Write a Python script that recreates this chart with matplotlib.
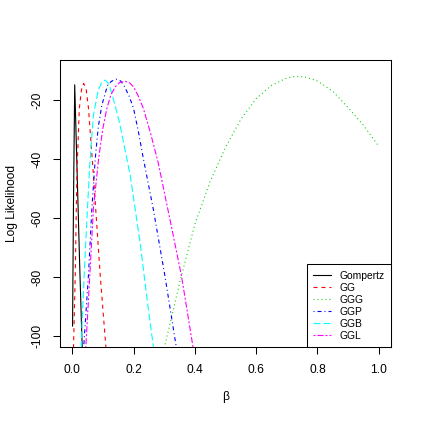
import matplotlib
matplotlib.use('Agg')
import matplotlib.pyplot as plt

plt.rcParams['font.family'] = ['Liberation Sans', 'DejaVu Sans']
plt.rcParams['axes.unicode_minus'] = False
plt.rcParams['lines.scale_dashes'] = False

# values (beta, log likelihood)
gomp_beta = [0.001, 0.004, 0.008, 0.016, 0.024, 0.033]
gomp_ll = [-96.5, -55, -14.8, -45, -75, -106]

gg_beta = [0.004, 0.0098, 0.015, 0.023, 0.03, 0.037, 0.045, 0.053, 0.069, 0.091, 0.11]
gg_ll = [-104, -79, -45.4, -22.8, -16.5, -14.3, -16, -22.8, -45.4, -79, -104]

ggg_beta = [0.30, 0.35, 0.40, 0.45, 0.50, 0.55, 0.60, 0.65, 0.70, 0.73, 0.765, 0.80, 0.85, 0.90, 0.95, 1.0]
ggg_ll = [-104, -82, -62, -47.5, -36, -26.5, -19.5, -15, -12.5, -11.9, -12.3, -13.5, -17, -22.5, -28.5, -35.6]

ggp_beta = [0.037, 0.053, 0.064, 0.075, 0.085, 0.0965, 0.115, 0.128, 0.143, 0.158, 0.17, 0.185, 0.2,
            0.216, 0.232, 0.264, 0.302, 0.34]
ggp_ll = [-104, -79, -56.7, -39.8, -29, -21.7, -15, -13.6, -12.9, -13.5, -15.3, -18.5, -22.8,
          -30.8, -39.8, -56.7, -79.3, -104]

ggb_beta = [0.029, 0.034, 0.044, 0.057, 0.069, 0.085, 0.095, 0.107, 0.117, 0.124, 0.14, 0.156,
            0.189, 0.221, 0.248, 0.266]
ggb_ll = [-104, -90.5, -68, -42, -25.1, -16.5, -14.3, -13.2, -14.2, -16.0, -21.8, -28.5,
          -45.4, -68, -90.6, -104.5]

ggl_beta = [0.044, 0.0585, 0.069, 0.086, 0.1, 0.113, 0.126, 0.14, 0.155, 0.172, 0.188, 0.2, 0.215,
            0.232, 0.255, 0.28, 0.32, 0.357, 0.394]
ggl_ll = [-104, -77, -56.7, -39.8, -29.5, -22.8, -18.2, -15.5, -14, -13.6, -14.2, -15.5, -18.5,
          -22.8, -31, -41, -61, -79.9, -103.6]

x_ticks = [0.0, 0.2, 0.4, 0.6, 0.8, 1.0]
y_ticks = [-100, -80, -60, -40, -20]

W = 422
fig = plt.figure(figsize=(W / 100, W / 100), dpi=100)
ax = fig.add_axes([60 / W, 1 - 347 / W, 331 / W, 287 / W])

lw = 0.8
ax.plot(gomp_beta, gomp_ll, color='black', lw=lw, label='Gompertz')
ax.plot(gg_beta, gg_ll, color='red', lw=lw, dashes=(2.88, 2.88), label='GG')
ax.plot(ggg_beta, ggg_ll, color='#00CD00', lw=lw, dashes=(0.72, 2.16), label='GGG')
ax.plot(ggp_beta, ggp_ll, color='blue', lw=lw, dashes=(0.72, 2.16, 2.88, 2.16), label='GGP')
ax.plot(ggb_beta, ggb_ll, color='cyan', lw=lw, dashes=(5.04, 2.16), label='GGB')
ax.plot(ggl_beta, ggl_ll, color='magenta', lw=lw, dashes=(1.44, 1.44, 4.32, 1.44), label='GGL')

ax.set_xlim(-0.04, 1.04)
ax.set_ylim(-103.6, -6.4)
ax.set_xticks(x_ticks)
ax.set_xticklabels(['%.1f' % v for v in x_ticks])
ax.set_yticks(y_ticks)
ax.set_yticklabels([str(v) for v in y_ticks], rotation=90, va='center')
ax.tick_params(direction='out', length=5, width=0.75, labelsize=8.64, pad=7)
for s in ax.spines.values():
    s.set_linewidth(0.75)

leg = ax.legend(loc='lower right', bbox_to_anchor=(1, 0), borderaxespad=0,
                fancybox=False, edgecolor='black', framealpha=1,
                handlelength=1.8, handletextpad=0.8, borderpad=0.6,
                labelspacing=0.2, prop={'size': 7.4})
leg.get_frame().set_linewidth(0.75)

fig.text(225.5 / W, 1 - 397 / W, 'β', ha='center', va='center', fontsize=8.64)
fig.text(12 / W, 1 - 203.5 / W, 'Log Likelihood', ha='center', va='center',
         rotation=90, fontsize=8.64)

fig.savefig('out.png', dpi=100)
